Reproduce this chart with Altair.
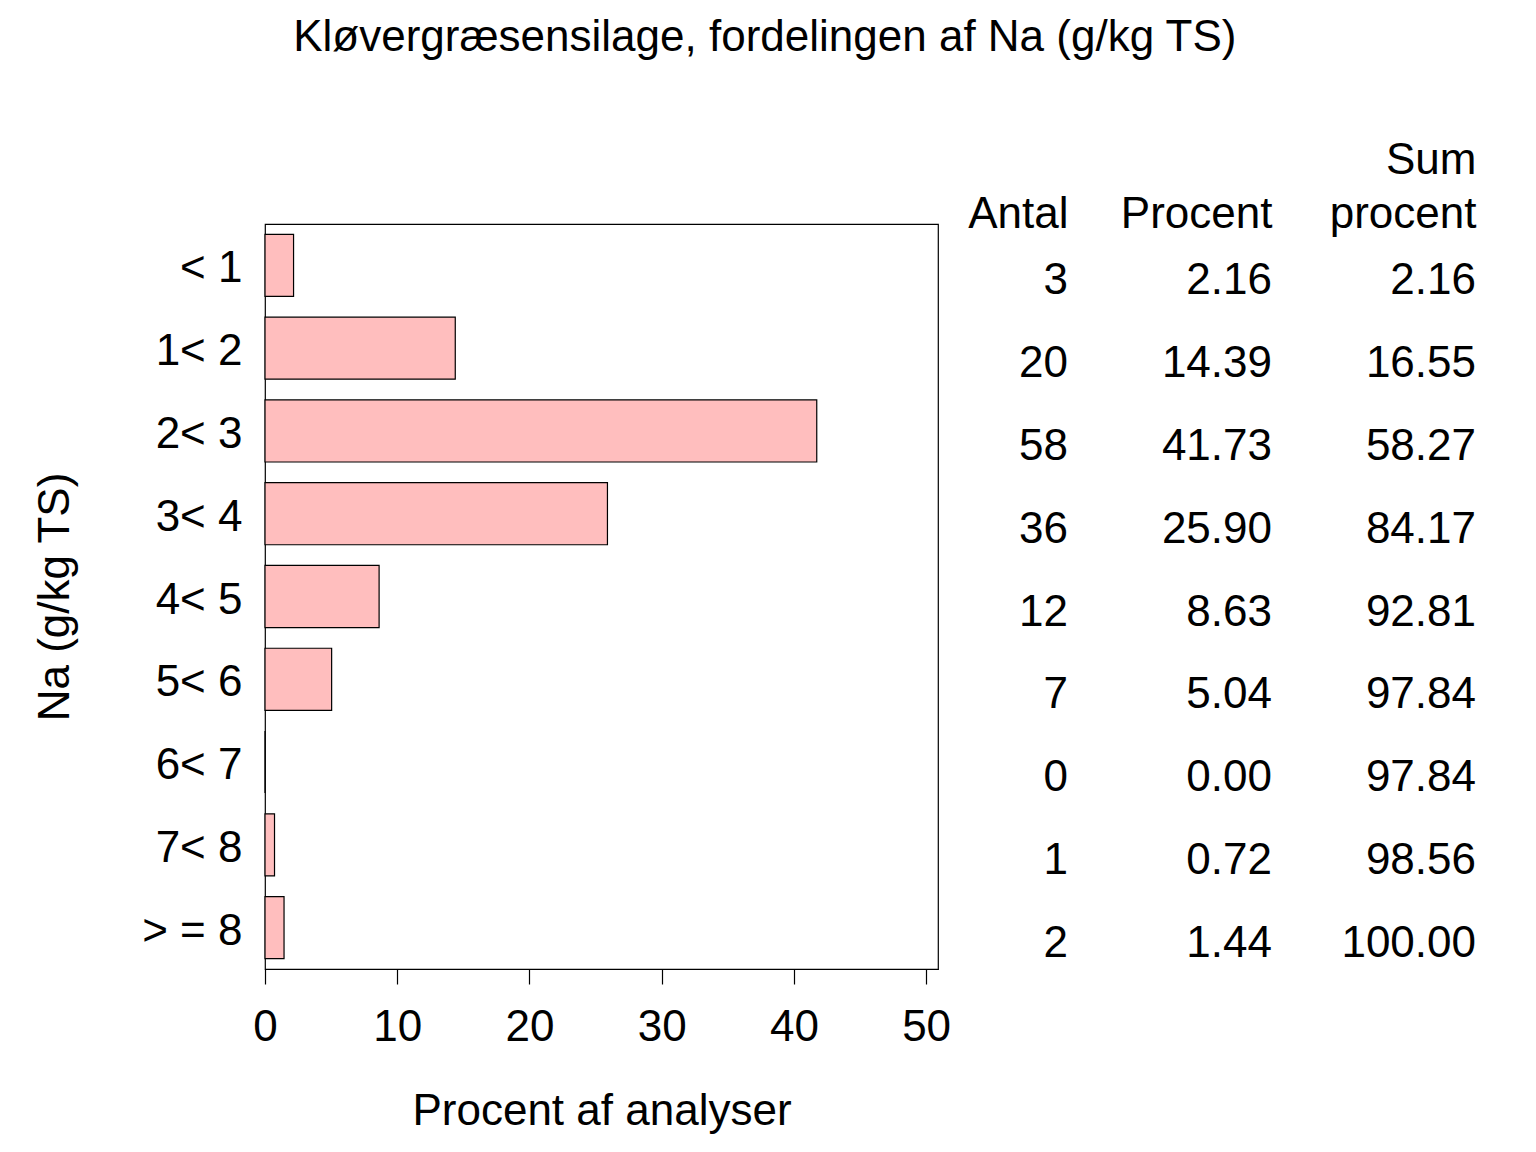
import altair as alt
import pandas as pd

FONT = "Liberation Sans"

categories = ["< 1", "1< 2", "2< 3", "3< 4", "4< 5", "5< 6", "6< 7", "7< 8", "> = 8"]
antal = [3, 20, 58, 36, 12, 7, 0, 1, 2]
procent = [2.16, 14.39, 41.73, 25.90, 8.63, 5.04, 0.00, 0.72, 1.44]
sum_procent = [2.16, 16.55, 58.27, 84.17, 92.81, 97.84, 97.84, 98.56, 100.00]
columns = ["Antal", "Procent", "Sum procent"]
x_ticks = [0, 10, 20, 30, 40, 50]

bars_df = pd.DataFrame({"cat": categories, "pct": procent})

rows = []
for c, a, p, s in zip(categories, antal, procent, sum_procent):
    rows.append({"cat": c, "col": columns[0], "txt": f"{a}"})
    rows.append({"cat": c, "col": columns[1], "txt": f"{p:.2f}"})
    rows.append({"cat": c, "col": columns[2], "txt": f"{s:.2f}"})
table_df = pd.DataFrame(rows)

y_enc = alt.Y(
    "cat:N",
    sort=categories,
    scale=alt.Scale(paddingInner=0.25, paddingOuter=0.125),
    axis=alt.Axis(
        title="Na (g/kg TS)",
        titleFont=FONT, titleFontSize=44, titleFontWeight="normal", titleColor="black",
        titlePadding=64,
        labelFont=FONT, labelFontSize=44, labelColor="black",
        labelBaseline="alphabetic", labelOffset=17, labelPadding=23,
        ticks=False, domain=False,
    ),
)

bars = alt.Chart(bars_df).mark_bar(
    fill="#ffbebe", stroke="black", strokeWidth=1.2
).encode(
    x=alt.X(
        "pct:Q",
        scale=alt.Scale(domain=[0, 50.9], nice=False, zero=True),
        axis=alt.Axis(
            values=x_ticks, format="d",
            title="Procent af analyser",
            titleFont=FONT, titleFontSize=44, titleFontWeight="normal", titleColor="black",
            titlePadding=40,
            labelFont=FONT, labelFontSize=44, labelColor="black", labelPadding=21,
            labelFlush=False,
            tickSize=15, tickColor="black", tickWidth=1.2,
            domainColor="black", domainWidth=1.2, grid=False,
        ),
    ),
    y=y_enc,
)

table = alt.Chart(table_df).mark_text(
    align="right", baseline="alphabetic", dy=29, font=FONT, fontSize=44, color="black"
).encode(
    x=alt.X(
        "col:N",
        sort=columns,
        scale=alt.Scale(domain=columns, range=[803, 1211], padding=0),
        axis=alt.Axis(
            orient="top", title=None, ticks=False, domain=False, grid=False,
            labelFont=FONT, labelFontSize=44, labelColor="black",
            labelAlign="right", labelBaseline="alphabetic", labelPadding=51,
            labelLineHeight=54, labelAngle=0,
            labelExpr="datum.label == 'Sum procent' ? ['Sum', 'procent'] : ['', datum.label]",
        ),
    ),
    y=alt.Y("cat:N", sort=categories),
    text="txt:N",
)

chart = alt.layer(bars, table).resolve_scale(x="independent").resolve_axis(x="independent").properties(
    width=673,
    height=745,
    background="white",
    title=alt.TitleParams(
        "Kløvergræsensilage, fordelingen af Na (g/kg TS)",
        font=FONT, fontSize=44, fontWeight="normal", color="black",
        anchor="middle", frame="bounds", offset=78, dx=10,
    ),
    padding={"left": 25, "top": 8, "right": 10, "bottom": 10},
).configure_view(
    stroke="black", strokeWidth=1.2
)

chart.save("out.html", embed_options={"renderer": "svg", "actions": False})
